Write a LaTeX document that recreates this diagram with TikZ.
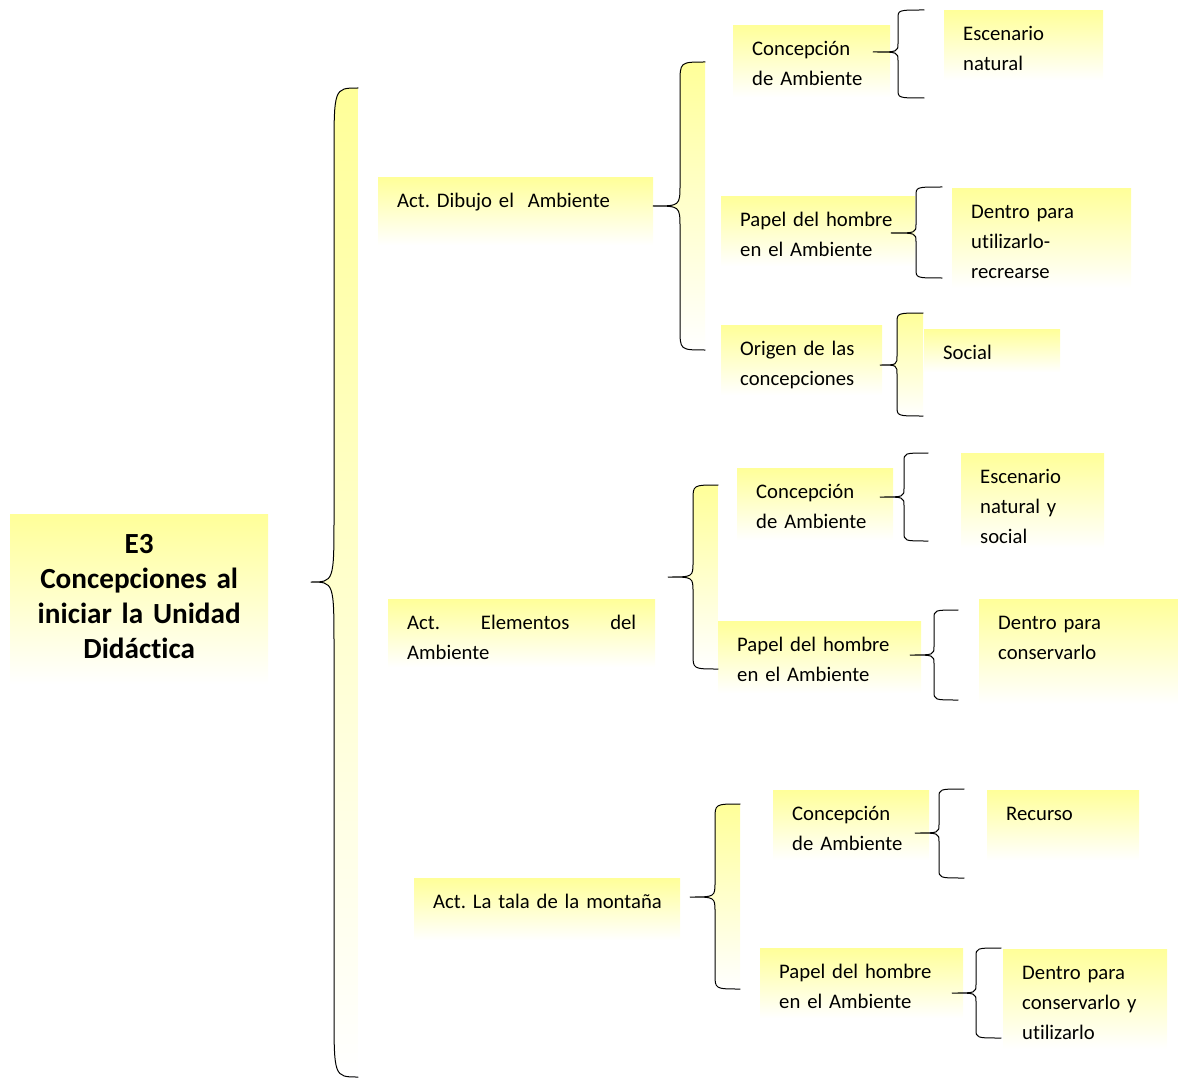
\documentclass[tikz,border=0pt]{standalone}
\usepackage{fontspec}
\setmainfont{Carlito}[Ligatures=NoCommon, WordSpace=0.8]
\frenchspacing
\hyphenpenalty=10000
\definecolor{amarillo}{RGB}{255,255,153}
\tikzset{
  caja/.style={anchor=north west, inner xsep=19pt, inner ysep=0pt, align=left,
    top color=amarillo, bottom color=white, text height=30pt,
    font=\fontsize{20.7}{30}\selectfont},
  llave/.style={draw=black, line width=1pt},
  relleno/.style={top color=amarillo, bottom color=white}
}
% llave: tip x, tip y, vertical x, right x, top y, bottom y, fill (1/0)
\newcommand{\llave}[7]{%
  \pgfmathsetmacro{\rr}{0.065*(#6-#5)+3}
  \ifnum#7=1
    \shade[relleno](#4,#5)..controls(#3,#5)..(#3,#5+\rr)--(#3,#2-\rr)..controls(#3,#2)..(#1,#2)
      ..controls(#3,#2)..(#3,#2+\rr)--(#3,#6-\rr)..controls(#3,#6)..(#4,#6)--cycle;
  \fi
  \draw[llave](#4,#5)..controls(#3,#5)..(#3,#5+\rr)--(#3,#2-\rr)..controls(#3,#2)..(#1,#2)
    ..controls(#3,#2)..(#3,#2+\rr)--(#3,#6-\rr)..controls(#3,#6)..(#4,#6);
}
\begin{document}
\begin{tikzpicture}[x=1pt, y=-1pt, line join=round, line cap=round]
\useasboundingbox (0,0) rectangle (1178,1078);
\node[caja, align=center, inner xsep=10pt, text width=238pt, text height=39pt, text depth=131pt,
  font=\fontsize{29.2}{35}\selectfont\bfseries] (principal) at (10,514)
  {E3\\Concepciones al\\iniciar la Unidad\\Didáctica};
\foreach \nom/\x/\y/\an/\al/\txt [evaluate=\an as \tw using \an-38, evaluate=\al as \td using \al-30] in {
  dibujo/378/177/275/68/{Act. Dibujo el\ \ Ambiente},
  conca/733/25/157/72/{Concepción\\de Ambiente},
  esca/944/10/159/70/{Escenario\\natural},
  papela/721/196/194/70/{Papel del hombre\\en el Ambiente},
  dentroa/952/188/179/100/{Dentro para\\utilizarlo-\\recrearse},
  origen/721/325/161/70/{Origen de las\\concepciones},
  social/924/329/136/43/{Social},
  elementos/388/599/267/68/{Act.\hfill Elementos\hfill del\\Ambiente},
  concb/737/468/156/72/{Concepción\\de Ambiente},
  escb/961/453/143/95/{Escenario\\natural y\\social},
  papelb/718/621/203/72/{Papel del hombre\\en el Ambiente},
  dentrob/979/599/199/105/{Dentro para\\conservarlo},
  tala/414/878/266/62/{\mbox{Act. La tala de la montaña}},
  concc/773/790/156/70/{Concepción\\de Ambiente},
  recurso/987/790/152/70/{Recurso},
  papelc/760/948/203/70/{Papel del hombre\\en el Ambiente},
  dentroc/1003/949/164/100/{Dentro para\\conservarlo y\\utilizarlo}}
  \node[caja, text width=\tw pt, text depth=\td pt] (\nom) at (\x,\y) {\txt};
% llaves
\foreach \xt/\yt/\xv/\xr/\ya/\yb/\rel in {
  311/582/334/358/88/1077/1, 653/206/680/705/62/350/1,
  873/52/898/924/10/98/0, 891/233/916/942/187/278/0, 880/365/897/923/313/416/1,
  668/577/693/718/485/669/1, 880/497/904/928/453/541/0, 910/655/934/958/610/700/0,
  690/897/715/740/804/989/1, 915/833/939/964/789/878/0, 952/993/976/1001/948/1038/0}
  \llave{\xt}{\yt}{\xv}{\xr}{\ya}{\yb}{\rel};
\end{tikzpicture}
\end{document}
